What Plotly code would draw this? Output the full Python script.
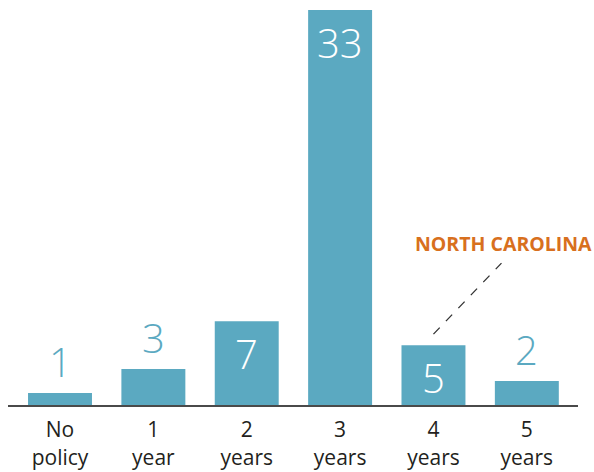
import plotly.graph_objects as go

categories = ["No<br>policy", "1<br>year", "2<br>years", "3<br>years", "4<br>years", "5<br>years"]
values = [1, 3, 7, 33, 5, 2]
inside_label = [False, False, True, True, True, False]
highlight_category = "4<br>years"
highlight_value = 5
highlight_text = "NORTH CAROLINA"

BAR = "#5ba9c1"
ORANGE = "#d8701e"

fig = go.Figure()
fig.add_trace(go.Bar(x=categories, y=values, marker=dict(color=BAR, line=dict(width=0)),
                     hoverinfo="skip"))

for c, v, ins in zip(categories, values, inside_label):
    fig.add_annotation(
        x=c, y=v, text=str(v), showarrow=False,
        yanchor="top" if ins else "bottom",
        yshift=-3 if ins else 2,
        font=dict(family="Open Sans", size=40, color="white" if ins else BAR, weight=300),
    )

fig.add_shape(type="line", xref="x", yref="y", xsizemode="pixel", ysizemode="pixel",
              xanchor=highlight_category, yanchor=highlight_value,
              x0=0, y0=11, x1=68, y1=82,
              line=dict(color="#333333", width=1.3, dash="dash"))
fig.add_annotation(x=highlight_category, y=highlight_value, text="<b>%s</b>" % highlight_text,
                   showarrow=False, xshift=70, yshift=102, yanchor="middle",
                   font=dict(family="Open Sans", size=19.5, color=ORANGE))

fig.update_layout(
    width=594, height=472,
    margin=dict(l=8, r=16, t=10, b=67, autoexpand=False),
    paper_bgcolor="white", plot_bgcolor="white",
    bargap=0.315, showlegend=False,
    xaxis=dict(type="category", range=[-0.557, 5.548], showline=True, linecolor="#4a4a4a",
               linewidth=2, showgrid=False, zeroline=False, automargin=False,
               ticks="outside", ticklen=5, tickcolor="rgba(0,0,0,0)",
               tickfont=dict(family="Open Sans", size=21, color="#231f20")),
    yaxis=dict(range=[0, 33], visible=False, showgrid=False, zeroline=False, automargin=False),
)

fig.write_html("out.html", config={"displayModeBar": False, "staticPlot": True},
               post_script="document.body.style.margin='0';document.body.style.overflow='hidden';")
